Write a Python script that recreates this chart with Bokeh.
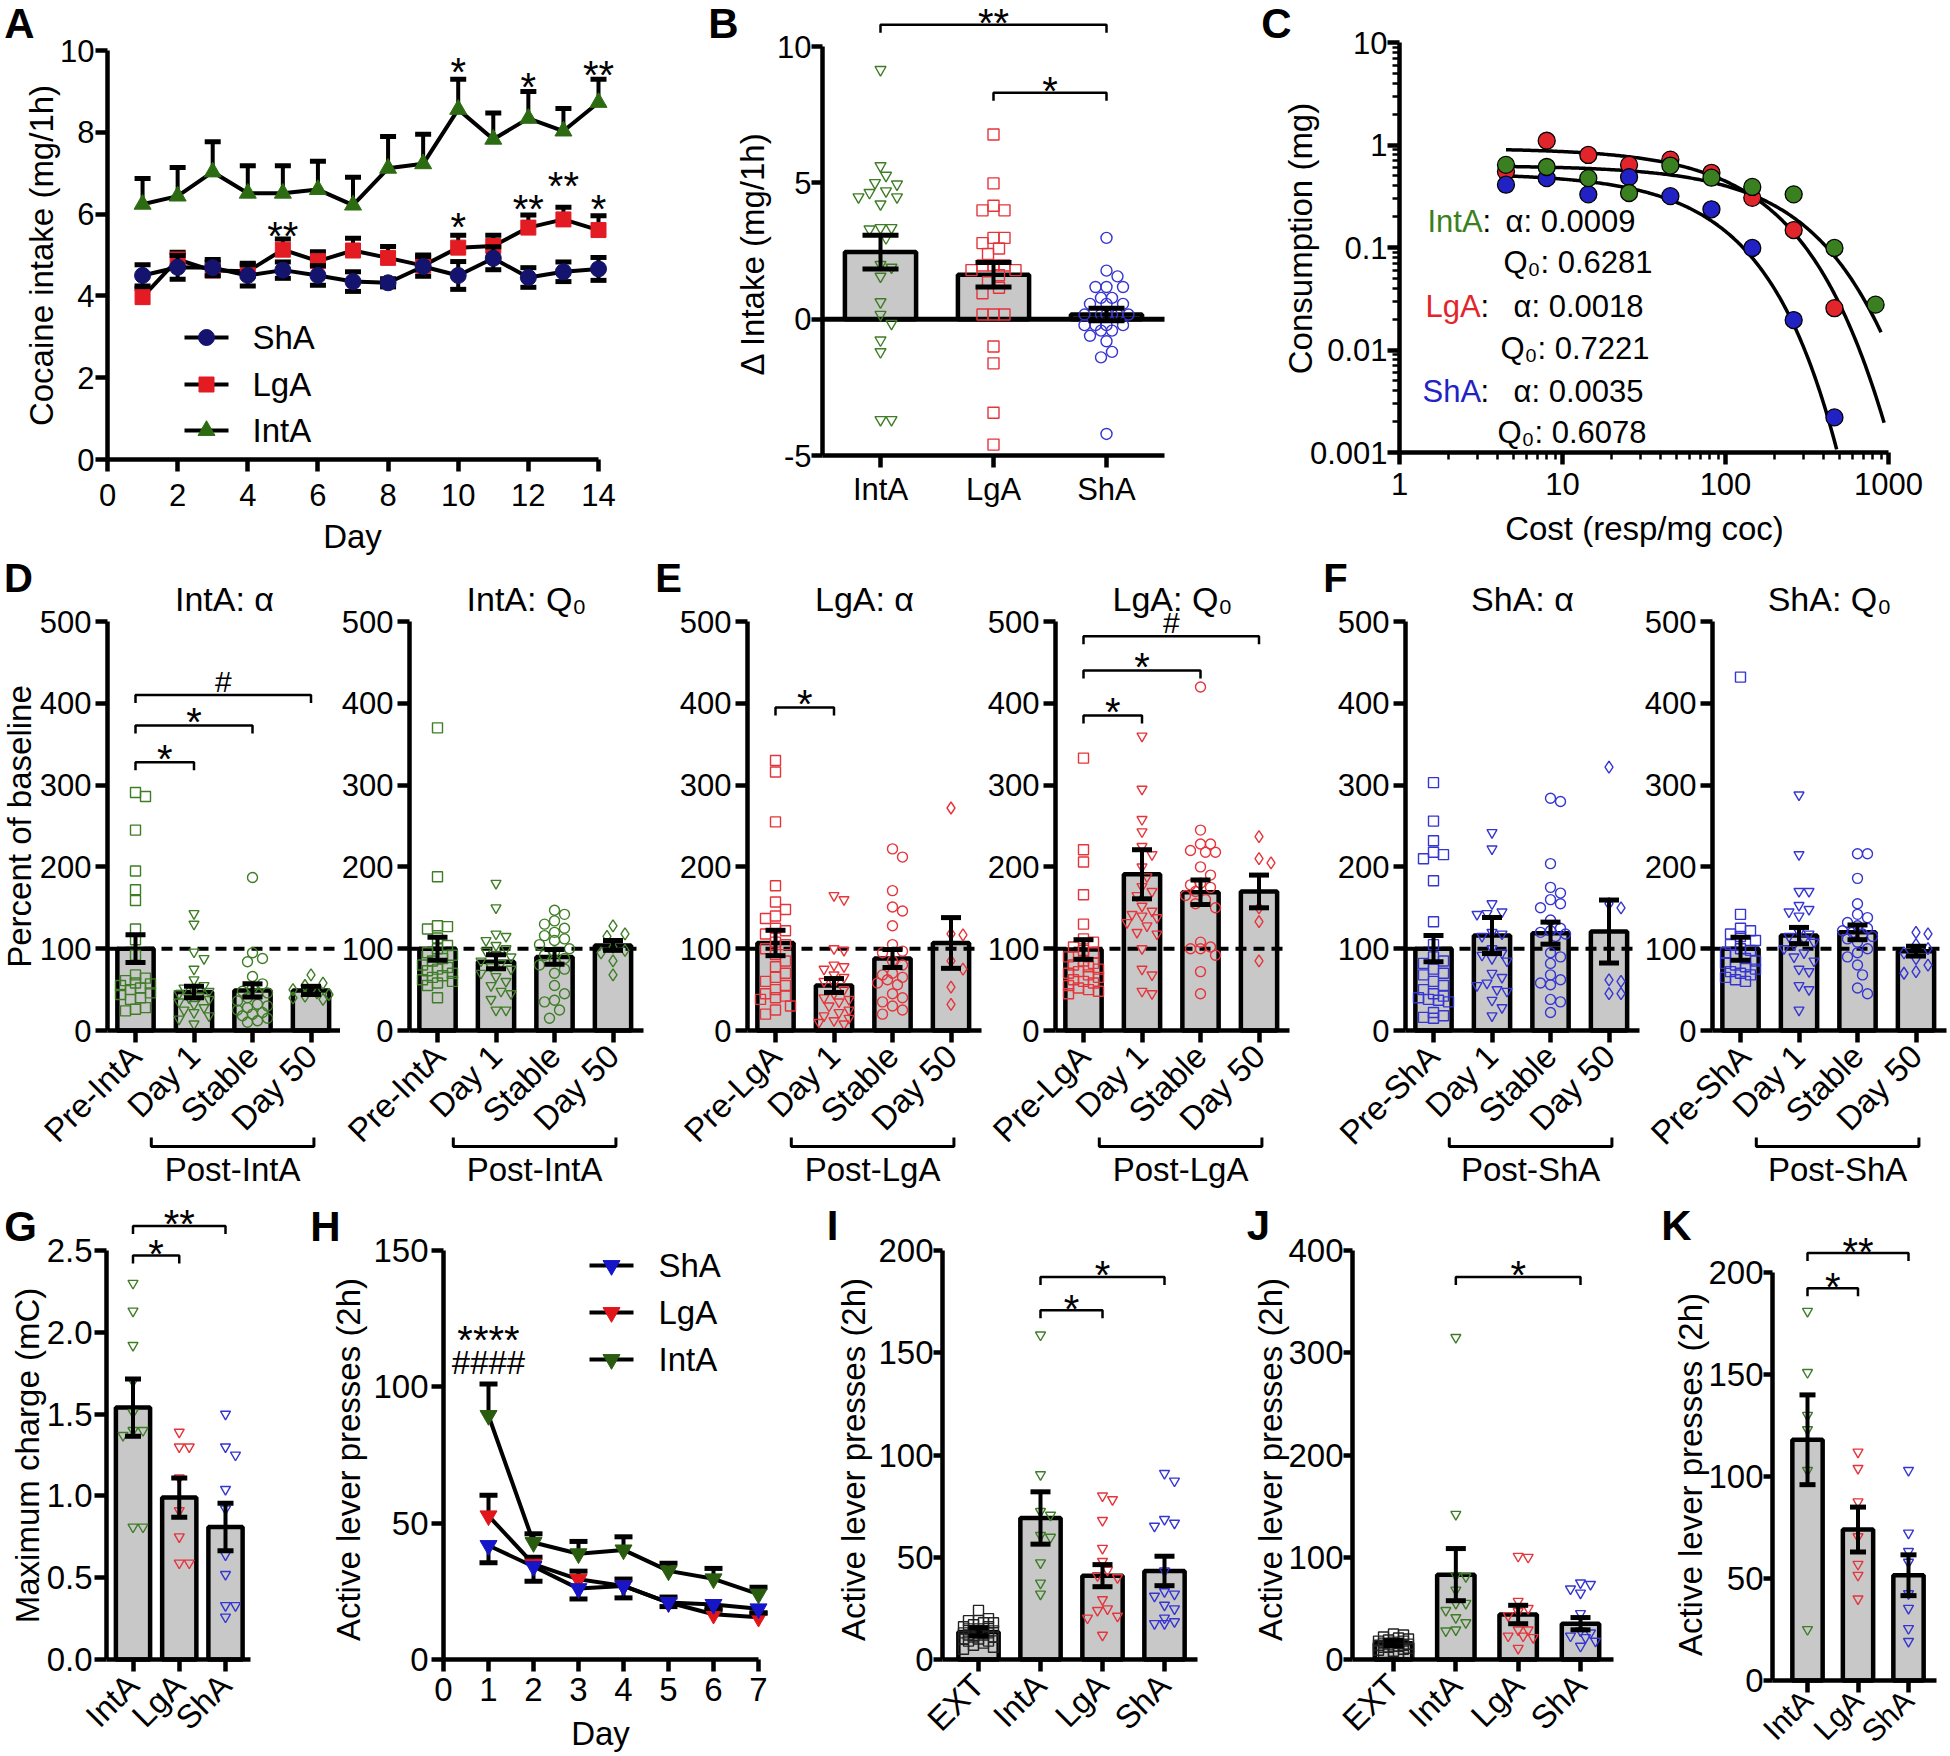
import math
import numpy as np
from bokeh.plotting import figure
from bokeh.models import Range1d, LinearAxis, LogAxis, FixedTicker
from bokeh.layouts import row, column
from bokeh.embed import file_html
from bokeh.resources import INLINE
from bokeh.core.properties import value

FONT = "Liberation Sans"
GRAY = "#c8c8c8"
G_S, R_S, B_S = "#3e7d26", "#e5343a", "#3535d2"
G_L, R_L, B_L = "#2d6b12", "#e31b23", "#14146e"
G_H, R_H, B_H = "#2a5c10", "#e0161b", "#1616c8"
G_C, R_C, B_C = "#3a8020", "#e2252b", "#2222c4"

# ---------------- Panel A data ----------------
a_days = list(range(1, 15))
a_sha = [4.50, 4.70, 4.69, 4.50, 4.63, 4.50, 4.35, 4.32, 4.72, 4.50, 4.92, 4.45, 4.59, 4.66]
a_sha_sem = [0.26, 0.29, 0.20, 0.26, 0.20, 0.24, 0.24, 0.10, 0.24, 0.34, 0.28, 0.24, 0.24, 0.28]
a_lga = [3.97, 4.89, 4.62, 4.60, 5.13, 4.85, 5.11, 4.93, 4.74, 5.18, 5.22, 5.67, 5.87, 5.61]
a_lga_sem = [0.22, 0.18, 0.20, 0.20, 0.26, 0.23, 0.30, 0.28, 0.26, 0.30, 0.26, 0.31, 0.30, 0.35]
a_inta = [6.24, 6.44, 7.03, 6.51, 6.51, 6.60, 6.22, 7.12, 7.23, 8.56, 7.83, 8.34, 8.03, 8.73]
a_inta_sem = [0.63, 0.70, 0.74, 0.67, 0.67, 0.69, 0.68, 0.78, 0.72, 0.74, 0.64, 0.66, 0.55, 0.57]
a_star_day = [10, 12, 14, 5, 10, 12, 13, 14]
a_star_y = [9.74, 9.35, 9.65, 5.72, 5.94, 6.38, 6.94, 6.38]
a_star_txt = ["*", "*", "**", "**", "*", "**", "**", "*"]

# ---------------- Panel B data ----------------
b_groups = ["IntA", "LgA", "ShA"]
b_mean = [2.46, 1.63, 0.17]
b_sem = [0.62, 0.45, 0.23]
b_inta = [9.15, 5.62, 5.27, 5.0, 4.95, 4.7, 4.64, 4.48, 4.48, 4.22, 3.35, 3.3, 3.35, 2.98,
          2.0, 1.9, 1.57, 0.63, 0.17, -0.16, -0.77, -1.2, -3.69, -3.69]
b_lga = [6.77, 4.98, 3.99, 3.99, 4.16, 2.98, 2.98, 2.79, 2.59, 2.39, 1.97, 1.97, 1.97, 1.8,
         1.8, 1.61, 1.35, 1.15, 0.95, 0.17, 0.17, 0.17, -1.0, -1.62, -3.43, -4.6]
b_sha = [2.98, 1.78, 1.57, 1.18, 1.18, 1.18, 0.78, 0.78, 0.56, 0.56, 0.56, 0.17, 0.17, 0.17,
         0.17, 0.17, 0.17, -0.22, -0.22, -0.22, -0.22, -0.42, -0.42, -0.61, -0.81, -1.2, -1.4, -4.21]
b_sig = [(0, 2, 10.8, "**"), (1, 2, 8.3, "*")]

# ---------------- Panel C data ----------------
c_cost = [4.5, 8.0, 14.4, 25.6, 45.9, 82, 146, 262, 466, 833]
c_inta = [0.64, 0.61, 0.475, 0.34, 0.63, 0.48, 0.39, 0.33, 0.099, 0.0277]
c_lga = [0.55, 1.1, 0.80, 0.64, 0.72, 0.535, 0.305, 0.148, 0.0256]
c_sha = [0.41, 0.475, 0.33, 0.486, 0.317, 0.236, 0.099, 0.0196, 0.0022]
c_alpha = ["0.0009", "0.0018", "0.0035"]
c_q0 = ["0.6281", "0.7221", "0.6078"]
c_fit_q0 = [0.63, 0.93, 0.53]
c_fit_k = [8.7, 10.9, 100.0]
c_fit_u = [0.00023, 0.0003, 0.0000568]
c_fit_cmax = [900, 940, 500]

# ---------------- Panels D-F data ----------------
pct_cats = ["Pre-{}", "Day 1", "Stable", "Day 50"]
d_alpha = dict(
    means=[100, 47, 49, 49], sems=[17, 7, 8, 5],
    pts=[[291, 286, 245, 195, 172, 159, 124, 111, 92, 68, 64, 61, 58, 57, 55, 52, 50, 46, 44, 40, 38, 28, 26, 24],
         [143, 130, 96, 88, 75, 62, 55, 52, 50, 48, 45, 42, 40, 38, 35, 32, 28, 25, 22, 18, 14, 8],
         [187, 95, 88, 84, 66, 57, 52, 48, 46, 45, 40, 36, 32, 30, 28, 25, 22, 20, 18, 15, 12, 10],
         [68, 58, 55, 50, 46, 44, 42, 40, 38]],
    sig=[(0, 1, 328, "*"), (0, 2, 373, "*"), (0, 3, 410, "#")])
d_q0 = dict(
    means=[100, 84, 90, 104], sems=[14, 8.5, 9, 6],
    pts=[[370, 188, 128, 127, 124, 113, 104, 100, 95, 92, 88, 85, 80, 77, 75, 73, 70, 67, 65, 62, 60, 58, 55, 40],
         [180, 150, 118, 115, 110, 104, 100, 97, 93, 90, 85, 82, 78, 75, 70, 66, 60, 55, 48, 45, 38, 25, 25],
         [147, 142, 134, 130, 125, 120, 116, 112, 110, 105, 100, 96, 92, 88, 85, 80, 75, 70, 55, 45, 37, 35, 25, 15],
         [128, 118, 115, 102, 98, 95, 85, 68]],
    sig=[])
e_alpha = dict(
    means=[107, 55, 88, 107], sems=[15.5, 8.5, 11, 31],
    pts=[[330, 316, 255, 177, 157, 148, 140, 137, 125, 122, 118, 108, 105, 100, 93, 85, 78, 70, 65, 60, 55, 50, 45, 42, 40, 38, 30, 25, 20],
         [165, 160, 100, 98, 80, 78, 75, 68, 65, 60, 58, 50, 45, 40, 38, 35, 30, 25, 22, 18, 15, 12, 10, 8],
         [222, 212, 171, 151, 146, 128, 105, 97, 95, 85, 80, 70, 68, 65, 62, 58, 56, 45, 40, 35, 30, 25, 20],
         [272, 118, 117, 85, 75, 53, 32]],
    sig=[(0, 1, 395, "*")])
e_q0 = dict(
    means=[99, 191, 169, 170], sems=[12, 30, 15, 20],
    pts=[[333, 221, 206, 166, 130, 112, 108, 102, 98, 95, 90, 85, 82, 80, 78, 75, 72, 70, 68, 65, 62, 60, 58, 55, 52, 50, 48, 45],
         [360, 295, 258, 243, 225, 215, 200, 188, 176, 170, 165, 152, 146, 142, 140, 138, 132, 128, 120, 118, 100, 75, 68, 48, 45],
         [420, 245, 228, 228, 220, 218, 218, 200, 190, 180, 178, 175, 170, 165, 160, 155, 150, 108, 102, 100, 100, 92, 72, 45],
         [237, 210, 205, 150, 133, 85]],
    sig=[(0, 1, 385, "*"), (0, 2, 440, "*"), (0, 3, 482, "#")])
f_alpha = dict(
    means=[100, 116, 119, 121], sems=[16, 22, 13.5, 38.5],
    pts=[[303, 256, 232, 218, 215, 210, 183, 133, 105, 90, 85, 82, 75, 70, 68, 60, 55, 50, 45, 42, 40, 38, 37, 35, 22, 18, 16, 15],
         [242, 222, 155, 145, 143, 142, 120, 118, 115, 100, 95, 92, 88, 85, 70, 65, 58, 55, 50, 48, 37, 28, 18],
         [284, 280, 204, 175, 168, 160, 155, 150, 135, 125, 122, 120, 118, 115, 95, 90, 82, 68, 62, 58, 56, 38, 35, 22],
         [322, 155, 150, 62, 60, 45, 45]],
    sig=[])
f_q0 = dict(
    means=[100, 116, 120, 97], sems=[14, 10, 9, 6],
    pts=[[432, 142, 125, 122, 118, 115, 110, 105, 100, 98, 95, 92, 88, 85, 82, 80, 78, 75, 72, 70, 68, 65, 62, 60],
         [288, 215, 170, 170, 153, 148, 145, 140, 120, 118, 115, 112, 108, 105, 100, 95, 90, 85, 75, 72, 55, 50, 25],
         [216, 216, 186, 155, 142, 138, 132, 128, 125, 122, 120, 118, 115, 112, 108, 100, 95, 90, 80, 68, 52, 45],
         [120, 118, 105, 100, 95, 88, 80, 72, 70]],
    sig=[])

# ---------------- Panel G data ----------------
g_mean = [1.54, 0.99, 0.81]
g_sem = [0.175, 0.12, 0.145]
g_inta = [2.30, 2.13, 1.92, 1.70, 1.51, 1.40, 1.40, 1.37, 0.81, 0.81]
g_lga = [1.39, 1.30, 1.30, 1.11, 0.91, 0.75, 0.59, 0.59]
g_sha = [1.50, 1.30, 1.25, 1.04, 0.92, 0.64, 0.52, 0.33, 0.33, 0.26]
g_sig = [(0, 1, 2.47, "*"), (0, 2, 2.65, "**")]

# ---------------- Panel H data ----------------
h_days = [1, 2, 3, 4, 5, 6, 7]
h_inta = [89.5, 42.9, 38.8, 40.2, 32.5, 29.6, 24.0]
h_inta_sem = [11.5, 3.2, 4.5, 4.8, 2.8, 3.8, 2.5]
h_lga = [52.7, 35.0, 29.4, 27.0, 20.9, 16.6, 15.5]
h_lga_sem = [7.5, 2.5, 3.0, 2.5, 2.0, 1.5, 1.5]
h_sha = [41.8, 34.1, 26.0, 27.0, 20.9, 20.2, 18.6]
h_sha_sem = [6.3, 5.4, 3.8, 4.4, 1.5, 1.5, 1.5]

# ---------------- Panel I data ----------------
i_mean = [13.5, 69.2, 41.0, 43.3]
i_sem = [2.0, 12.8, 5.4, 7.2]
i_ext = [24, 20, 19, 19, 18, 18, 17, 16, 16, 15, 15, 14, 14, 14, 13, 13, 13, 12, 12, 11, 11, 10, 10, 9, 9, 8, 7, 6, 5]
i_inta = [158.7, 90.4, 72.4, 70.6, 59.8, 60.7, 47.3, 37.4, 32.0]
i_lga = [80.0, 78.2, 68.0, 54.4, 48.0, 43.7, 40.0, 41.0, 29.3, 24.8, 24.0, 20.3, 21.2, 11.9]
i_sha = [91.0, 87.3, 68.5, 65.2, 66.7, 43.3, 33.2, 31.0, 32.0, 26.6, 24.8, 20.3, 17.6, 17.6, 18.5]
i_sig = [(1, 2, 170.8, "*"), (1, 3, 187.0, "*")]

# ---------------- Panel J data ----------------
j_mean = [16, 83, 44, 35]
j_sem = [2.5, 25.5, 9.0, 6.0]
j_ext = [25, 24, 22, 21, 20, 19, 18, 18, 17, 16, 16, 15, 15, 14, 14, 13, 13, 12, 12, 11, 10, 9, 8, 7, 6, 5]
j_inta = [315, 142, 82, 81, 68, 55, 48, 41, 29, 28, 55, 36]
j_lga = [100, 101, 57, 50, 47, 43, 29, 29, 23, 23, 21.5, 11]
j_sha = [75, 73.5, 69, 65, 45, 28, 26, 23, 21.5, 18, 13]
j_sig = [(1, 3, 374, "*")]

# ---------------- Panel K data ----------------
k_mean = [118, 74, 51.6]
k_sem = [22, 11, 10]
k_inta = [181, 151, 130, 123, 103, 25]
k_lga = [112, 104, 87.6, 70.5, 57, 51.6, 40]
k_sha = [103, 72.3, 63.3, 58, 42.6, 35.4, 25.5, 19.2]
k_sig = [(0, 1, 192.3, "*"), (0, 2, 209.5, "**")]

STAR_FS = 40
ROW2_TOP = 556


# ======================================================================
class Panel:
    """A figure whose frame covers a given page rectangle; data <-> page pixel mapping."""
    def __init__(self, fx0, fx1, fy0, fy1, xa, ya, xlog=False, ylog=False):
        self.xlog, self.ylog = xlog, ylog
        tx = math.log10 if xlog else float
        ty = math.log10 if ylog else float
        xv1, xp1, xv2, xp2 = xa
        yv1, yp1, yv2, yp2 = ya
        self._x = (tx(xv1), xp1, (xp2 - xp1) / (tx(xv2) - tx(xv1)))
        self._y = (ty(yv1), yp1, (yp2 - yp1) / (ty(yv2) - ty(yv1)))
        self.xs = abs(self._x[2])
        self.ys = abs(self._y[2])
        p = figure(width=fx1 - fx0, height=fy1 - fy0,
                   x_range=Range1d(self.xv(fx0), self.xv(fx1)),
                   y_range=Range1d(self.yv(fy1), self.yv(fy0)),
                   x_axis_type="log" if xlog else "linear",
                   y_axis_type="log" if ylog else "linear",
                   x_axis_location=None, y_axis_location=None,
                   title=None, toolbar_location=None, output_backend="svg",
                   min_border=0)
        p.outline_line_color = None
        p.background_fill_color = "white"
        p.border_fill_color = "white"
        p.xgrid.visible = False
        p.ygrid.visible = False
        p.grid.grid_line_color = None
        self.fig = p

    def xv(self, px):
        t0, p0, s = self._x
        t = t0 + (px - p0) / s
        return 10 ** t if self.xlog else t

    def yv(self, py):
        t0, p0, s = self._y
        t = t0 + (py - p0) / s
        return 10 ** t if self.ylog else t

    def xpx(self, v):
        t0, p0, s = self._x
        return p0 + (v - t0) * s

    def dx(self, n):
        return n / self.xs

    def dy(self, n):
        return n / self.ys


def axis(P, side, fixed, bounds, ticks, labels=None, fs=31, orient=None, log=False,
         minor=None, standoff=4, tick=12):
    cls = LogAxis if log else LinearAxis
    ax = cls(fixed_location=fixed, bounds=bounds,
             ticker=FixedTicker(ticks=ticks, minor_ticks=minor or []))
    ax.axis_line_width = 4.5
    ax.axis_line_color = "black"
    ax.major_tick_line_width = 4.5
    ax.major_tick_out = tick
    ax.major_tick_in = 0
    if minor:
        ax.minor_tick_line_width = 2.5
        ax.minor_tick_out = 7
        ax.minor_tick_in = 0
    else:
        ax.minor_tick_line_color = None
    ax.major_label_text_font = FONT
    ax.major_label_text_font_size = f"{fs}px"
    ax.major_label_text_color = "black"
    ax.major_label_standoff = standoff
    if labels:
        ax.major_label_overrides = labels
    if orient is not None:
        ax.major_label_orientation = orient
    P.fig.add_layout(ax, side)
    return ax


def T(P, px, py, s, fs=33, color="black", align="center", baseline="middle", angle=0.0, bold=False):
    P.fig.text(x=[P.xv(px)], y=[P.yv(py)], text=[s], text_font=value(FONT),
               text_font_size=f"{fs}px", text_color=color, text_align=align,
               text_baseline=baseline, angle=angle,
               text_font_style="bold" if bold else "normal")


def _mark(P, x, ymid, s, fs):
    P.fig.text(x=[x], y=[ymid], text=[s], text_font=value(FONT),
               text_font_size=f"{fs}px", text_color="black", text_align="center",
               text_baseline="middle")


def mark_text(P, x, yc, s):
    # significance mark whose glyph is centred at data y = yc
    if "*" in s:
        _mark(P, x, yc - P.dy(0.26 * STAR_FS), s, STAR_FS)
    else:
        _mark(P, x, yc, s, 33)


def bracket(P, x1, x2, y, label, drop=8, gap=14):
    h = P.dy(drop)
    P.fig.multi_line([[x1, x1, x2, x2]], [[y - h, y, y, y - h]], line_color="black", line_width=2.5)
    if "*" in label:
        _mark(P, (x1 + x2) / 2, y + P.dy(gap - 0.26 * STAR_FS), label, STAR_FS)
    else:
        _mark(P, (x1 + x2) / 2, y + P.dy(gap), label, 30)


def errbars(P, xs, m, s, cap, lw=4, up=True, down=True):
    lo = [a - b if down else a for a, b in zip(m, s)]
    hi = [a + b if up else a for a, b in zip(m, s)]
    p = P.fig
    p.segment(x0=xs, y0=lo, x1=xs, y1=hi, line_color="black", line_width=lw)
    w = P.dx(cap)
    if up:
        p.segment(x0=[x - w for x in xs], y0=hi, x1=[x + w for x in xs], y1=hi,
                  line_color="black", line_width=lw + 1)
    if down:
        p.segment(x0=[x - w for x in xs], y0=lo, x1=[x + w for x in xs], y1=lo,
                  line_color="black", line_width=lw + 1)


def swarm(P, center, vals, size, maxhalf):
    d = size * 1.0
    step = d * 0.5
    cands = [0.0]
    k = 1
    while k * step <= maxhalf:
        cands += [k * step, -k * step]
        k += 1
    placed = []
    out = [0.0] * len(vals)
    order = sorted(range(len(vals)), key=lambda i: -vals[i])
    for i in order:
        y = vals[i] * P.ys
        best, bestd = 0.0, -1.0
        for c in cands:
            md = min((math.hypot(c - px, y - py) for px, py in placed), default=1e9)
            if md >= d:
                best = c
                break
            if md > bestd:
                best, bestd = c, md
        placed.append((best, y))
        out[i] = center + best / P.xs
    return out


def dots(P, center, vals, marker, color, size=10, maxhalf=18):
    xs = swarm(P, center, vals, size, maxhalf)
    P.fig.scatter(xs, vals, marker=marker, size=size, fill_color=None, line_color=color, line_width=1.4)


# ======================================================================
# Panel A
PA = Panel(0, 640, 0, ROW2_TOP, (0, 107, 14, 598), (0, 459, 10, 50))
pa = PA.fig
axis(PA, "below", 0, (0, 14), list(range(0, 15, 2)), fs=31, standoff=12)
axis(PA, "left", 0, (0, 10), list(range(0, 11, 2)), fs=31, standoff=1)
for vals, sem, mk, col, sz, both in [(a_inta, a_inta_sem, "triangle", G_L, 17, False),
                                     (a_lga, a_lga_sem, "square", R_L, 15, False),
                                     (a_sha, a_sha_sem, "circle", B_L, 16, True)]:
    errbars(PA, a_days, vals, sem, 8, up=True, down=both)
    pa.line(a_days, vals, line_color="black", line_width=4)
    pa.scatter(a_days, vals, marker=mk, size=sz, fill_color=col, line_color=col)
for d, yc, s in zip(a_star_day, a_star_y, a_star_txt):
    mark_text(PA, d, yc, s)
for name, py, mk, col, sz in [("ShA", 337, "circle", B_L, 16), ("LgA", 384, "square", R_L, 15),
                              ("IntA", 430, "triangle", G_L, 17)]:
    pa.line([PA.xv(184), PA.xv(228)], [PA.yv(py)] * 2, line_color="black", line_width=4)
    pa.scatter([PA.xv(206)], [PA.yv(py)], marker=mk, size=sz, fill_color=col, line_color=col)
    T(PA, 252, py, name, align="left")
T(PA, 41, 255, "Cocaine intake (mg/1h)", angle=math.pi / 2)
T(PA, 352, 536, "Day")
T(PA, 19, 23, "A", fs=42, bold=True)

# Panel B
PB = Panel(640, 1250, 0, ROW2_TOP, (0, 880, 2, 1106), (-5, 455, 10, 46))
pb = PB.fig
bxa, bxe = PB.xv(822), PB.xv(1164)
axis(PB, "left", bxa, (-5, 10), [-5, 0, 5, 10], labels={-5: "-5", 0: "0", 5: "5", 10: "10"},
     fs=31, standoff=0, tick=11)
axis(PB, "below", -5, (bxa, bxe), [0, 1, 2], labels={i: g for i, g in enumerate(b_groups)}, fs=31, standoff=4)
pb.vbar(x=[0, 1, 2], top=b_mean, bottom=0, width=0.63, fill_color=GRAY, line_color="black", line_width=4.5)
pb.line([bxa, bxe], [0, 0], line_color="black", line_width=5)
dots(PB, 0, b_inta, "inverted_triangle", G_S, 11, 22)
dots(PB, 1, b_lga, "square", R_S, 11, 22)
dots(PB, 2, b_sha, "circle", B_S, 11, 22)
errbars(PB, [0, 1, 2], b_mean, b_sem, 18)
for x1, x2, y, s in b_sig:
    bracket(PB, x1, x2, y, s, gap=12)
T(PB, 752, 253, "\u0394 Intake (mg/1h)", angle=math.pi / 2)
T(PB, 723, 23, "B", fs=42, bold=True)

# Panel C
PC = Panel(1250, 1948, 0, ROW2_TOP, (1, 1399, 1000, 1888), (0.001, 452, 10, 42), xlog=True, ylog=True)
pc = PC.fig
xminor = [m * 10 ** e for e in range(0, 3) for m in range(2, 10)]
yminor = [m * 10.0 ** e for e in range(-3, 1) for m in range(2, 10)]
axis(PC, "below", 0.001, (1, 1000), [1, 10, 100, 1000],
     labels={1: "1", 10: "10", 100: "100", 1000: "1000"}, fs=31, log=True, minor=xminor, standoff=8)
axis(PC, "left", 1, (0.001, 10), [0.001, 0.01, 0.1, 1, 10],
     labels={0.001: "0.001", 0.01: "0.01", 0.1: "0.1", 1: "1", 10: "10"}, fs=31, log=True,
     minor=yminor, standoff=0)
for q0, k, u, cmax in zip(c_fit_q0, c_fit_k, c_fit_u, c_fit_cmax):
    cs = np.logspace(np.log10(c_cost[0]), np.log10(cmax), 240)
    q = q0 * 10 ** (k * (np.exp(-u * cs) - 1))
    m = q >= 0.001
    pc.line(cs[m], q[m], line_color="black", line_width=3.5)
pc.scatter(c_cost[:len(c_lga)], c_lga, marker="circle", size=17, fill_color=R_C, line_color="black", line_width=1.3)
pc.scatter(c_cost[:len(c_sha)], c_sha, marker="circle", size=17, fill_color=B_C, line_color="black", line_width=1.3)
pc.scatter(c_cost[:len(c_inta)], c_inta, marker="circle", size=17, fill_color=G_C, line_color="black", line_width=1.3)
for name, col, ya, yq, xn, wn, xa_, xq, al, q0s in [
        ("IntA", G_C, 221, 262, 1427, 55, 1505, 1503, c_alpha[0], c_q0[0]),
        ("LgA", R_C, 306, 348, 1425, 55, 1513, 1500, c_alpha[1], c_q0[1]),
        ("ShA", B_C, 391, 432, 1422, 58, 1513, 1497, c_alpha[2], c_q0[2])]:
    T(PC, xn, ya, name, fs=31, color=col, align="left")
    T(PC, xn + wn, ya, ":", fs=31, align="left")
    T(PC, xa_, ya, "\u03b1: " + al, fs=31, align="left")
    T(PC, xq, yq, "Q\u2080: " + q0s, fs=31, align="left")
T(PC, 1300, 238, "Consumption (mg)", angle=math.pi / 2)
T(PC, 1644, 528, "Cost (resp/mg coc)")
T(PC, 1276, 23, "C", fs=42, bold=True)


# Panels D-F
def pct_panel(fx0, fx1, ax_px, grp, title, col, data, ylabel=False, letter=None):
    P = Panel(fx0, fx1, ROW2_TOP, 1200, (0, ax_px + 28, 1, ax_px + 86.5), (0, 1030, 500, 621))
    p = P.fig
    xa, xe = P.xv(ax_px), P.xv(ax_px + 234)
    axis(P, "left", xa, (0, 500), [0, 100, 200, 300, 400, 500], fs=31, standoff=4)
    labs = [c.format(grp) for c in pct_cats]
    axis(P, "below", 0, (xa, xe), [0, 1, 2, 3], labels={i: l for i, l in enumerate(labs)},
         fs=33, orient=math.pi / 4, standoff=8)
    idx = [0, 1, 2, 3]
    p.vbar(x=idx, top=data["means"], bottom=0, width=0.62, fill_color=GRAY, line_color="black", line_width=4.5)
    p.line([xa, xe], [100, 100], line_color="black", line_width=4, line_dash="11 7")
    for i, (vals, mk) in enumerate(zip(data["pts"], ["square", "inverted_triangle", "circle", "diamond"])):
        dots(P, i, vals, mk, col, 10 if mk != "diamond" else 12, 19)
    errbars(P, idx, data["means"], data["sems"], 10)
    for x1, x2, y, s in data["sig"]:
        bracket(P, x1, x2, y, s)
    yb, yt = P.yv(1146), P.yv(1137)
    p.multi_line([[0.27, 0.27, 3.05, 3.05]], [[yt, yb, yb, yt]], line_color="black", line_width=3)
    T(P, P.xpx(1.66), 1150, "Post-" + grp, fs=33, baseline="top")
    T(P, ax_px + 117, 598, title, fs=34)
    if ylabel:
        T(P, 19, 826, "Percent of baseline", angle=math.pi / 2)
    if letter:
        T(P, letter[1], 577, letter[0], fs=40, bold=True)
    return P


PD1 = pct_panel(0, 340, 107, "IntA", "IntA: \u03b1", G_S, d_alpha, ylabel=True, letter=("D", 18))
PD2 = pct_panel(340, 650, 409, "IntA", "IntA: Q\u2080", G_S, d_q0)
PE1 = pct_panel(650, 985, 747, "LgA", "LgA: \u03b1", R_S, e_alpha, letter=("E", 668))
PE2 = pct_panel(985, 1310, 1055, "LgA", "LgA: Q\u2080", R_S, e_q0)
PF1 = pct_panel(1310, 1643, 1405, "ShA", "ShA: \u03b1", B_S, f_alpha, letter=("F", 1335))
PF2 = pct_panel(1643, 1948, 1712, "ShA", "ShA: Q\u2080", B_S, f_q0)

# Panel G
PG = Panel(0, 290, 1200, 1754, (0, 132.5, 2, 225), (0, 1659, 2.5, 1250))
pg = PG.fig
gxa, gxe = PG.xv(106), PG.xv(250)
axis(PG, "left", gxa, (0, 2.5), [0, 0.5, 1, 1.5, 2, 2.5],
     labels={0: "0.0", 0.5: "0.5", 1: "1.0", 1.5: "1.5", 2: "2.0", 2.5: "2.5"}, fs=33, standoff=2)
axis(PG, "below", 0, (gxa, gxe), [0, 1, 2], labels={0: "IntA", 1: "LgA", 2: "ShA"},
     fs=33, orient=math.pi / 4, standoff=8)
pg.vbar(x=[0, 1, 2], top=g_mean, bottom=0, width=0.74, fill_color=GRAY, line_color="black", line_width=4.5)
dots(PG, 0, g_inta, "inverted_triangle", G_S, 10, 14)
dots(PG, 1, g_lga, "inverted_triangle", R_S, 10, 14)
dots(PG, 2, g_sha, "inverted_triangle", B_S, 10, 14)
errbars(PG, [0, 1, 2], g_mean, g_sem, 8)
for x1, x2, y, s in g_sig:
    bracket(PG, x1, x2, y, s, gap=12)
T(PG, 27, 1455, "Maximum charge (mC)", angle=math.pi / 2)
T(PG, 20, 1226, "G", fs=42, bold=True)

# Panel H
PH = Panel(290, 800, 1200, 1754, (0, 443, 7, 758), (0, 1659, 150, 1250))
ph = PH.fig
axis(PH, "below", 0, (0, 7), list(range(0, 8)), fs=33, standoff=6)
axis(PH, "left", 0, (0, 150), [0, 50, 100, 150], fs=33, standoff=3)
for vals, sem, col, up in [(h_inta, h_inta_sem, G_H, True), (h_lga, h_lga_sem, R_H, True),
                           (h_sha, h_sha_sem, B_H, False)]:
    errbars(PH, h_days, vals, sem, 9, up=up, down=not up)
    ph.line(h_days, vals, line_color="black", line_width=4)
    ph.scatter(h_days, vals, marker="inverted_triangle", size=17, fill_color=col, line_color=col)
mark_text(PH, 1, 121, "****")
mark_text(PH, 1, 109, "####")
for name, py, col in [("ShA", 1265, B_H), ("LgA", 1312, R_H), ("IntA", 1359, G_H)]:
    ph.line([PH.xv(589), PH.xv(633)], [PH.yv(py)] * 2, line_color="black", line_width=4)
    ph.scatter([PH.xv(611)], [PH.yv(py)], marker="inverted_triangle", size=17, fill_color=col, line_color=col)
    T(PH, 658, py, name, align="left")
T(PH, 348, 1459, "Active lever presses (2h)", angle=math.pi / 2)
T(PH, 600, 1733, "Day")
T(PH, 325, 1226, "H", fs=42, bold=True)


def lever_panel(fx0, fx1, ax_px, end_px, xa, ya, ticks, cats, means, sems, groups, sig, cap,
                bw, letter, ylab_px, xfs=33, xstand=8):
    P = Panel(fx0, fx1, 1200, 1754, xa, ya)
    p = P.fig
    xa_, xe_ = P.xv(ax_px), P.xv(end_px)
    axis(P, "left", xa_, (0, ticks[-1]), ticks, fs=33, standoff=0, tick=9)
    axis(P, "below", 0, (xa_, xe_), list(range(len(cats))), labels={i: c for i, c in enumerate(cats)},
         fs=xfs, orient=math.pi / 4, standoff=xstand)
    idx = list(range(len(cats)))
    p.vbar(x=idx, top=means, bottom=0, width=bw, fill_color=GRAY, line_color="black", line_width=4.5)
    for i, (vals, mk, col) in enumerate(groups):
        dots(P, i, vals, mk, col, 10, 17)
    errbars(P, idx, means, sems, cap)
    for x1, x2, y, s in sig:
        bracket(P, x1, x2, y, s, gap=12)
    T(P, ylab_px[0], ylab_px[1], "Active lever presses (2h)", angle=math.pi / 2)
    T(P, letter[1], letter[2], letter[0], fs=42, bold=True)
    return P


PI = lever_panel(800, 1230, 942, 1197, (0, 978, 3, 1164), (0, 1659, 200, 1250),
                 [0, 50, 100, 150, 200], ["EXT", "IntA", "LgA", "ShA"], i_mean, i_sem,
                 [(i_ext, "square", "#222222"), (i_inta, "inverted_triangle", G_S),
                  (i_lga, "inverted_triangle", R_S), (i_sha, "inverted_triangle", B_S)],
                 i_sig, 10, 0.65, ("I", 832, 1225), (853, 1459))
PJ = lever_panel(1230, 1640, 1352, 1613, (0, 1393, 3, 1580), (0, 1659, 400, 1250),
                 [0, 100, 200, 300, 400], ["EXT", "IntA", "LgA", "ShA"], j_mean, j_sem,
                 [(j_ext, "square", "#222222"), (j_inta, "inverted_triangle", G_S),
                  (j_lga, "inverted_triangle", R_S), (j_sha, "inverted_triangle", B_S)],
                 j_sig, 10, 0.6, ("J", 1258, 1225), (1270, 1459))
PK = lever_panel(1640, 1948, 1772, 1936, (0, 1807, 2, 1908), (0, 1680, 200, 1272),
                 [0, 50, 100, 150, 200], ["IntA", "LgA", "ShA"], k_mean, k_sem,
                 [(k_inta, "inverted_triangle", G_S), (k_lga, "inverted_triangle", R_S),
                  (k_sha, "inverted_triangle", B_S)],
                 k_sig, 8, 0.6, ("K", 1676, 1225), (1690, 1474), xfs=31, xstand=3)

layout = column(
    row(PA.fig, PB.fig, PC.fig),
    row(PD1.fig, PD2.fig, PE1.fig, PE2.fig, PF1.fig, PF2.fig),
    row(PG.fig, PH.fig, PI.fig, PJ.fig, PK.fig),
)

open("out.html", "w").write(file_html(layout, INLINE))
